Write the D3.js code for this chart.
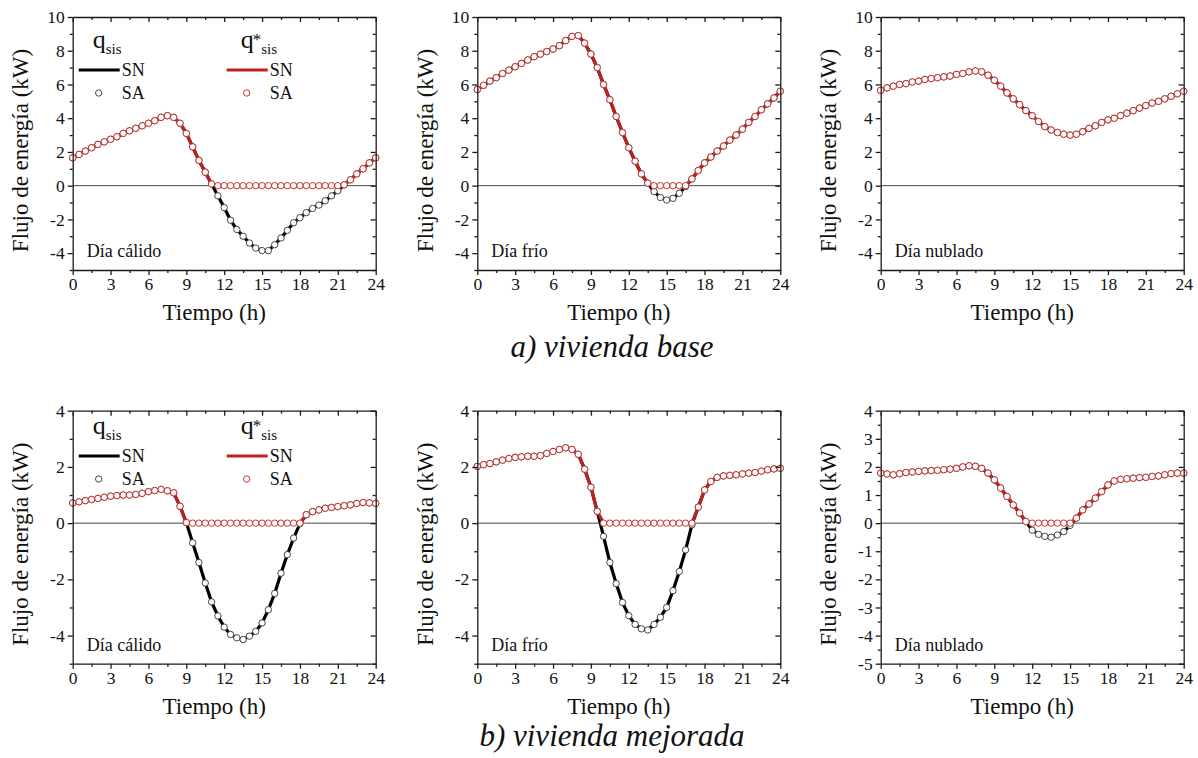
<!DOCTYPE html>
<html>
<head>
<meta charset="utf-8">
<script src="https://cdn.jsdelivr.net/npm/d3@7"></script>
<style>
body { margin: 0; background: #fff; }
svg { font-family: "Liberation Serif", "Times New Roman", serif; }
</style>
</head>
<body>
<svg id="chart" width="1198" height="758"></svg>
<script>
// horas del día (cada 0.5 h)
var hours = [0, 0.5, 1, 1.5, 2, 2.5, 3, 3.5, 4, 4.5, 5, 5.5, 6, 6.5, 7, 7.5, 8, 8.5, 9, 9.5,
    10, 10.5, 11, 11.5, 12, 12.5, 13, 13.5, 14, 14.5, 15, 15.5, 16, 16.5, 17, 17.5, 18, 18.5, 19, 19.5,
    20, 20.5, 21, 21.5, 22, 22.5, 23, 23.5, 24];

// q_sis (kW) - vivienda base
var baseWarm = [1.65, 1.85, 2.05, 2.25, 2.45, 2.6, 2.75, 2.9, 3.1, 3.25, 3.4, 3.55, 3.7, 3.85, 4.05, 4.15, 4.05, 3.7, 3.1, 2.3,
    1.5, 0.8, 0.1, -0.6, -1.3, -2.05, -2.6, -3.0, -3.4, -3.7, -3.85, -3.85, -3.5, -3.1, -2.65, -2.2, -1.9, -1.6, -1.35, -1.15,
    -0.9, -0.6, -0.3, 0.05, 0.35, 0.7, 1.0, 1.35, 1.65];
var baseCold = [5.7, 5.95, 6.2, 6.4, 6.65, 6.85, 7.05, 7.25, 7.45, 7.65, 7.8, 7.95, 8.1, 8.3, 8.6, 8.85, 8.9, 8.45, 7.8, 7.0,
    6.0, 5.1, 4.1, 3.15, 2.25, 1.45, 0.7, 0.15, -0.35, -0.7, -0.85, -0.75, -0.45, -0.05, 0.4, 0.9, 1.35, 1.7, 2.05, 2.35,
    2.7, 3.0, 3.35, 3.75, 4.1, 4.5, 4.85, 5.2, 5.6];
var baseCloudy = [5.65, 5.8, 5.9, 6.0, 6.05, 6.15, 6.2, 6.3, 6.35, 6.4, 6.45, 6.5, 6.6, 6.65, 6.75, 6.8, 6.75, 6.55, 6.25, 5.9,
    5.5, 5.15, 4.8, 4.45, 4.15, 3.8, 3.5, 3.3, 3.15, 3.05, 3.0, 3.05, 3.2, 3.4, 3.55, 3.75, 3.9, 4.0, 4.15, 4.3,
    4.45, 4.6, 4.75, 4.9, 5.0, 5.15, 5.3, 5.45, 5.6];

// q_sis (kW) - vivienda mejorada
var improvedWarm = [0.72, 0.76, 0.8, 0.84, 0.88, 0.92, 0.96, 0.98, 1.0, 1.0, 1.02, 1.06, 1.12, 1.16, 1.2, 1.15, 1.08, 0.6, 0.02, -0.7,
    -1.4, -2.13, -2.8, -3.3, -3.7, -3.96, -4.08, -4.14, -4.02, -3.85, -3.55, -3.08, -2.5, -1.78, -1.12, -0.53, -0.02, 0.3, 0.41, 0.47,
    0.53, 0.56, 0.59, 0.62, 0.65, 0.7, 0.73, 0.72, 0.7];
var improvedCold = [2.02, 2.08, 2.12, 2.18, 2.24, 2.3, 2.34, 2.36, 2.38, 2.38, 2.4, 2.48, 2.55, 2.62, 2.68, 2.62, 2.45, 1.92, 1.28, 0.42,
    -0.47, -1.4, -2.15, -2.82, -3.29, -3.6, -3.76, -3.8, -3.6, -3.35, -3.0, -2.4, -1.72, -0.95, -0.06, 0.57, 1.18, 1.48, 1.63, 1.68,
    1.7, 1.72, 1.75, 1.78, 1.8, 1.85, 1.9, 1.93, 1.95];
var improvedCloudy = [1.78, 1.75, 1.72, 1.76, 1.8, 1.82, 1.84, 1.86, 1.87, 1.88, 1.9, 1.92, 1.95, 2.0, 2.04, 2.02, 1.95, 1.78, 1.54, 1.25,
    0.95, 0.65, 0.36, 0.06, -0.25, -0.4, -0.47, -0.5, -0.42, -0.3, -0.08, 0.18, 0.47, 0.68, 0.89, 1.12, 1.36, 1.5, 1.56, 1.58,
    1.6, 1.62, 1.63, 1.66, 1.68, 1.72, 1.76, 1.78, 1.78];

// ejes
var xTicks = [0, 3, 6, 9, 12, 15, 18, 21, 24];
var xMinor = [1.5, 4.5, 7.5, 10.5, 13.5, 16.5, 19.5, 22.5];
var yTicksBase = [-4, -2, 0, 2, 4, 6, 8, 10];
var yMinorBase = [-5, -3, -1, 1, 3, 5, 7, 9];
var yTicksImproved = [-4, -2, 0, 2, 4];
var yMinorImproved = [-5, -3, -1, 1, 3];
var yTicksCloudy = [-5, -4, -3, -2, -1, 0, 1, 2, 3, 4];
var yMinorCloudy = [-4.5, -3.5, -2.5, -1.5, -0.5, 0.5, 1.5, 2.5, 3.5];

var dayLabels = ["Día cálido", "Día frío", "Día nublado"];
var groupTitles = ["a) vivienda base", "b) vivienda mejorada"];

var RED = "#c0201f";
var plotW = 303, plotH = 253;
var R = 3.2;

var panels = [
    { data: baseWarm, left: 72.7, top: 17, yDomain: [-5, 10], yTicks: yTicksBase, yMinor: yMinorBase, day: 0, legend: 48 },
    { data: baseCold, left: 477.3, top: 17, yDomain: [-5, 10], yTicks: yTicksBase, yMinor: yMinorBase, day: 1 },
    { data: baseCloudy, left: 880.7, top: 17, yDomain: [-5, 10], yTicks: yTicksBase, yMinor: yMinorBase, day: 2 },
    { data: improvedWarm, left: 72.7, top: 410.7, yDomain: [-5, 4], yTicks: yTicksImproved, yMinor: yMinorImproved, day: 0, legend: 434 },
    { data: improvedCold, left: 477.3, top: 410.7, yDomain: [-5, 4], yTicks: yTicksImproved, yMinor: yMinorImproved, day: 1 },
    { data: improvedCloudy, left: 880.7, top: 410.7, yDomain: [-5, 4], yTicks: yTicksCloudy, yMinor: yMinorCloudy, day: 2 }
];

var svg = d3.select("#chart");
var plain = function(d) { return String(d); };   // guion normal para negativos

function styleAxis(sel) {
    sel.selectAll("path, line").attr("stroke", "#1a1a1a").attr("stroke-width", 1.3);
    sel.selectAll("text").attr("font-family", "Liberation Serif, serif").attr("font-size", 17.5).attr("fill", "#111");
}

panels.forEach(function(p) {
    var x = d3.scaleLinear().domain([0, 24]).range([0, plotW]);
    var y = d3.scaleLinear().domain(p.yDomain).range([plotH, 0]);

    var g = svg.append("g")
        .attr("transform", "translate(" + p.left + "," + p.top + ")");

    // línea del cero
    g.append("line")
        .attr("x1", 0).attr("x2", plotW)
        .attr("y1", y(0)).attr("y2", y(0))
        .attr("stroke", "#444").attr("stroke-width", 1);

    var pts = hours.map(function(h, i) { return { h: h, v: p.data[i] }; });
    var ptsStar = pts.map(function(d) { return { h: d.h, v: Math.max(d.v, 0) }; });

    var line = d3.line().x(function(d) { return x(d.h); }).y(function(d) { return y(d.v); });

    g.append("path").datum(pts)
        .attr("d", line).attr("fill", "none")
        .attr("stroke", "#000").attr("stroke-width", 3.2);
    g.append("path").datum(ptsStar)
        .attr("d", line).attr("fill", "none")
        .attr("stroke", RED).attr("stroke-width", 3.2);

    g.selectAll(".sa").data(pts).enter().append("circle")
        .attr("cx", function(d) { return x(d.h); })
        .attr("cy", function(d) { return y(d.v); })
        .attr("r", R)
        .attr("fill", "#fff").attr("stroke", "#333").attr("stroke-width", 0.9);
    g.selectAll(".sastar").data(ptsStar).enter().append("circle")
        .attr("cx", function(d) { return x(d.h); })
        .attr("cy", function(d) { return y(d.v); })
        .attr("r", R)
        .attr("fill", "#fff").attr("stroke", RED).attr("stroke-width", 0.9);

    // ejes
    g.append("g").attr("transform", "translate(0," + plotH + ")")
        .call(d3.axisBottom(x).tickValues(xTicks).tickFormat(plain).tickSize(5).tickSizeOuter(0).tickPadding(3))
        .call(styleAxis);
    g.append("g").attr("transform", "translate(0," + plotH + ")")
        .call(d3.axisBottom(x).tickValues(xMinor).tickSize(3).tickFormat(""))
        .call(styleAxis).select(".domain").remove();
    g.append("g")
        .call(d3.axisTop(x).tickValues(xTicks).tickSize(-5).tickSizeOuter(0).tickFormat(""))
        .call(styleAxis);
    g.append("g")
        .call(d3.axisTop(x).tickValues(xMinor).tickSize(-3).tickFormat(""))
        .call(styleAxis).select(".domain").remove();

    g.append("g")
        .call(d3.axisLeft(y).tickValues(p.yTicks).tickFormat(plain).tickSize(5).tickSizeOuter(0).tickPadding(3))
        .call(styleAxis);
    g.append("g")
        .call(d3.axisLeft(y).tickValues(p.yMinor).tickSize(3).tickFormat(""))
        .call(styleAxis).select(".domain").remove();
    g.append("g").attr("transform", "translate(" + plotW + ",0)")
        .call(d3.axisRight(y).tickValues(p.yTicks).tickSize(-5).tickSizeOuter(0).tickFormat(""))
        .call(styleAxis);
    g.append("g").attr("transform", "translate(" + plotW + ",0)")
        .call(d3.axisRight(y).tickValues(p.yMinor).tickSize(-3).tickFormat(""))
        .call(styleAxis).select(".domain").remove();

    // títulos de ejes
    g.append("text")
        .attr("transform", "translate(-52," + (plotH / 2 + 7) + ") rotate(-90)")
        .attr("text-anchor", "middle").attr("dominant-baseline", "central")
        .attr("font-size", 23).attr("fill", "#111")
        .text("Flujo de energía (kW)");
    g.append("text")
        .attr("x", plotW / 2 - 10).attr("y", plotH + 50)
        .attr("text-anchor", "middle")
        .attr("font-size", 23).attr("fill", "#111")
        .text("Tiempo (h)");

    g.append("text")
        .attr("x", 14).attr("y", plotH - 13)
        .attr("font-size", 18).attr("fill", "#111")
        .text(dayLabels[p.day]);

    if (p.legend) {
        var lg = svg.append("g").attr("transform", "translate(" + p.left + "," + p.legend + ")");
        [{ x: 0, color: "#000", star: false }, { x: 148, color: RED, star: true }].forEach(function(s) {
            lg.append("text").attr("x", s.x + 20).attr("y", 0)
                .attr("font-size", 26).attr("fill", "#111").text("q");
            if (s.star) {
                lg.append("text").attr("x", s.x + 32).attr("y", -3)
                    .attr("font-size", 17).attr("fill", "#111").text("*");
                lg.append("text").attr("x", s.x + 40.5).attr("y", 6)
                    .attr("font-size", 15).attr("fill", "#111").text("sis");
            } else {
                lg.append("text").attr("x", s.x + 33).attr("y", 6)
                    .attr("font-size", 15).attr("fill", "#111").text("sis");
            }
            lg.append("line")
                .attr("x1", s.x + 6).attr("x2", s.x + 47)
                .attr("y1", 22).attr("y2", 22)
                .attr("stroke", s.color).attr("stroke-width", 3.2);
            lg.append("text").attr("x", s.x + 49).attr("y", 28).attr("font-size", 18).attr("fill", "#111").text("SN");
            lg.append("circle")
                .attr("cx", s.x + 26).attr("cy", 45).attr("r", R)
                .attr("fill", "#fff").attr("stroke", s.star ? RED : "#333").attr("stroke-width", 0.9);
            lg.append("text").attr("x", s.x + 49).attr("y", 51).attr("font-size", 18).attr("fill", "#111").text("SA");
        });
    }
});

svg.selectAll(".group-title").data(groupTitles).enter().append("text")
    .attr("class", "group-title")
    .attr("x", 612)
    .attr("y", function(d, i) { return i === 0 ? 357 : 746; })
    .attr("text-anchor", "middle")
    .attr("font-size", 31).attr("font-style", "italic").attr("fill", "#111")
    .text(function(d) { return d; });
</script>
</body>
</html>
